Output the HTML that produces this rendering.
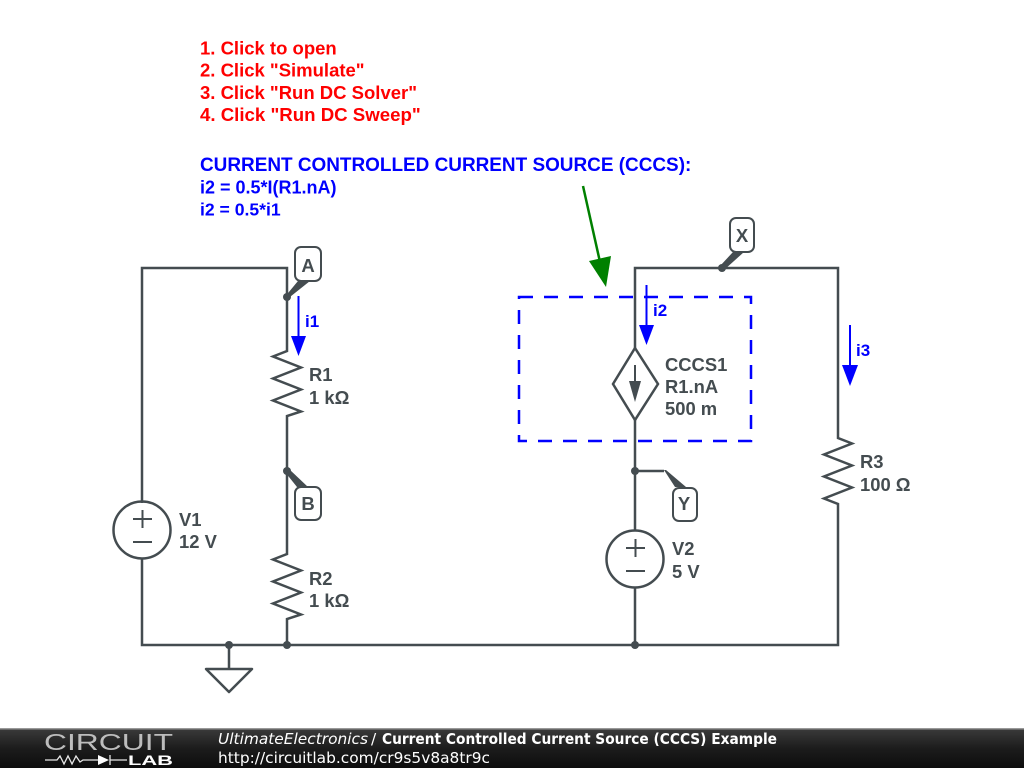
<!DOCTYPE html>
<html><head><meta charset="utf-8"><style>
html,body{margin:0;padding:0;background:#fff}
svg{display:block}
.c{font:bold 18.4px "Liberation Sans",sans-serif;fill:#444c50}
.t{font:bold 18.5px "Liberation Sans",sans-serif;fill:#444c50;text-anchor:middle}
.r{font:bold 18.5px "Liberation Sans",sans-serif;fill:#f00}
.b{font:bold 18px "Liberation Sans",sans-serif;fill:#00f}
.i{font:bold 17px "Liberation Sans",sans-serif;fill:#00f}
.w{fill:none;stroke:#444c50;stroke-width:2.5}
.s{fill:none;stroke:#444c50;stroke-width:2}
.f{font:15.4px "DejaVu Sans",sans-serif;fill:#fff}
</style></head><body>
<svg width="1024" height="768" viewBox="0 0 1024 768" xmlns="http://www.w3.org/2000/svg">
<defs><linearGradient id="g" x1="0" y1="0" x2="0" y2="1"><stop offset="0" stop-color="#3a3a3a"/><stop offset=".5" stop-color="#1c1c1c"/><stop offset="1" stop-color="#0d0d0d"/></linearGradient></defs>
<rect width="1024" height="768" fill="#fff"/>

<text class="r" x="200" y="54.500">1. Click to open</text>
<text class="r" x="200" y="76.500">2. Click "Simulate"</text>
<text class="r" x="200" y="99">3. Click "Run DC Solver"</text>
<text class="r" x="200" y="121" style="font-size:18.65px">4. Click "Run DC Sweep"</text>
<text class="r" x="200" y="171" style="fill:#00f;font-size:18.95px">CURRENT CONTROLLED CURRENT SOURCE (CCCS):</text>
<text class="b" x="200" y="193.500">i2 = 0.5*I(R1.nA)</text>
<text class="b" x="200" y="215.500" style="font-size:17.6px">i2 = 0.5*i1</text>

<path class="w" d="M142 503V268H287V351L273 356.500L301 367.500L273 378.500L301 389.500L273 400.500L301 411.500L287 416V554L273 559.500L301 570.500L273 581.500L301 592.500L273 603.500L301 614.500L287 619V645"/>
<path class="w" d="M142 558V645H838V504L824 498.500L852 487.500L824 476.500L852 465.500L824 454.500L852 443.500L838 438V268H635V348"/>
<path class="w" d="M635 420V531M635 587V645M229 645V670M635 471H664"/>

<circle class="w" cx="142" cy="530" r="28.500"/>
<path class="s" d="M133 519H152M142.500 510V528M133 542H152"/>
<circle class="w" cx="635" cy="559" r="28.500"/>
<path class="s" d="M626 548H645M635.500 539V557M626 571H645"/>

<path class="w" d="M635 348L658 384L635 420L613 384Z"/>
<path class="s" d="M635 365V385"/>
<path d="M629 381H641L635 402Z" fill="#444c50"/>

<path class="w" d="M206 669H252L229 692Z" stroke-linejoin="round"/>

<circle cx="287" cy="297" r="4" fill="#444c50"/>
<circle cx="287" cy="471" r="4" fill="#444c50"/>
<circle cx="722" cy="268" r="4" fill="#444c50"/>
<circle cx="635" cy="471" r="4" fill="#444c50"/>
<circle cx="229" cy="645" r="4" fill="#444c50"/>
<circle cx="287" cy="645" r="4" fill="#444c50"/>
<circle cx="635" cy="645" r="4" fill="#444c50"/>

<path d="M286 295.500L298 281H310L288 298.500Z" fill="#444c50"/>
<path d="M285 472L289 469L308 487H297Z" fill="#444c50"/>
<path d="M720 266L733 252H744L724 270Z" fill="#444c50"/>
<path d="M664 470L666 470L686 487H675Z" fill="#444c50"/>

<rect class="s" x="295" y="247" width="26" height="34" rx="6" style="fill:#fff"/>
<rect class="s" x="295" y="487" width="26" height="33" rx="6" style="fill:#fff"/>
<rect class="s" x="730" y="218" width="24" height="34" rx="6" style="fill:#fff"/>
<rect class="s" x="673" y="488" width="24" height="33" rx="6" style="fill:#fff"/>
<text class="t" x="308" y="272">A</text>
<text class="t" x="308" y="510">B</text>
<text class="t" x="742" y="242">X</text>
<text class="t" x="684" y="510">Y</text>

<text class="c" x="309" y="381">R1</text><text class="c" x="309" y="404">1 kΩ</text>
<text class="c" x="309" y="585">R2</text><text class="c" x="309" y="607">1 kΩ</text>
<text class="c" x="860" y="468">R3</text><text class="c" x="860" y="491">100 Ω</text>
<text class="c" x="179" y="526">V1</text><text class="c" x="179" y="548">12 V</text>
<text class="c" x="672" y="555">V2</text><text class="c" x="672" y="578">5 V</text>
<text class="c" x="665" y="371">CCCS1</text><text class="c" x="665" y="393">R1.nA</text><text class="c" x="665" y="415">500 m</text>

<rect x="519" y="297" width="232" height="144" fill="none" stroke="#00f" stroke-width="2.500" stroke-dasharray="14 11"/>

<path d="M298.500 296V338" stroke="#00f" stroke-width="2" fill="none"/><path d="M291 336H306L298.500 356Z" fill="#00f"/>
<text class="i" x="305" y="327">i1</text>
<path d="M646.500 285V327" stroke="#00f" stroke-width="2" fill="none"/><path d="M639 325H654L646.500 345Z" fill="#00f"/>
<text class="i" x="653" y="316">i2</text>
<path d="M850 325V367" stroke="#00f" stroke-width="2" fill="none"/><path d="M842 365H858L850 386Z" fill="#00f"/>
<text class="i" x="856" y="356">i3</text>

<path d="M583 186L600 262" stroke="#008000" stroke-width="2.500" fill="none"/>
<path d="M589 261L611 256L606 287Z" fill="#008000"/>

<rect x="0" y="729" width="1024" height="39" fill="url(#g)"/>
<rect x="0" y="728" width="1024" height="1.500" fill="#999"/>
<text x="44" y="750" textLength="129" lengthAdjust="spacingAndGlyphs" style="font:23.500px 'Liberation Sans',sans-serif;fill:#bdbdbd">CIRCUIT</text>
<path d="M45 760H57L60 756L64 764L68 756L72 764L76 756L80 762L83 760H98M110 755V765M110 760H127" fill="none" stroke="#e8e8e8" stroke-width="1.300"/>
<path d="M98 755L109 760L98 765Z" fill="#fff"/>
<text x="128" y="765" textLength="45" lengthAdjust="spacingAndGlyphs" style="font:bold 14px 'Liberation Sans',sans-serif;fill:#fff">LAB</text>
<text class="f" x="218" y="744" style="font-style:italic">UltimateElectronics</text>
<text class="f" x="371" y="744">/</text>
<text class="f" x="382" y="744" style="font-weight:bold" textLength="395" lengthAdjust="spacingAndGlyphs">Current Controlled Current Source (CCCS) Example</text>
<text class="f" x="218" y="763">http://circuitlab.com/cr9s5v8a8tr9c</text>
</svg>
</body></html>
